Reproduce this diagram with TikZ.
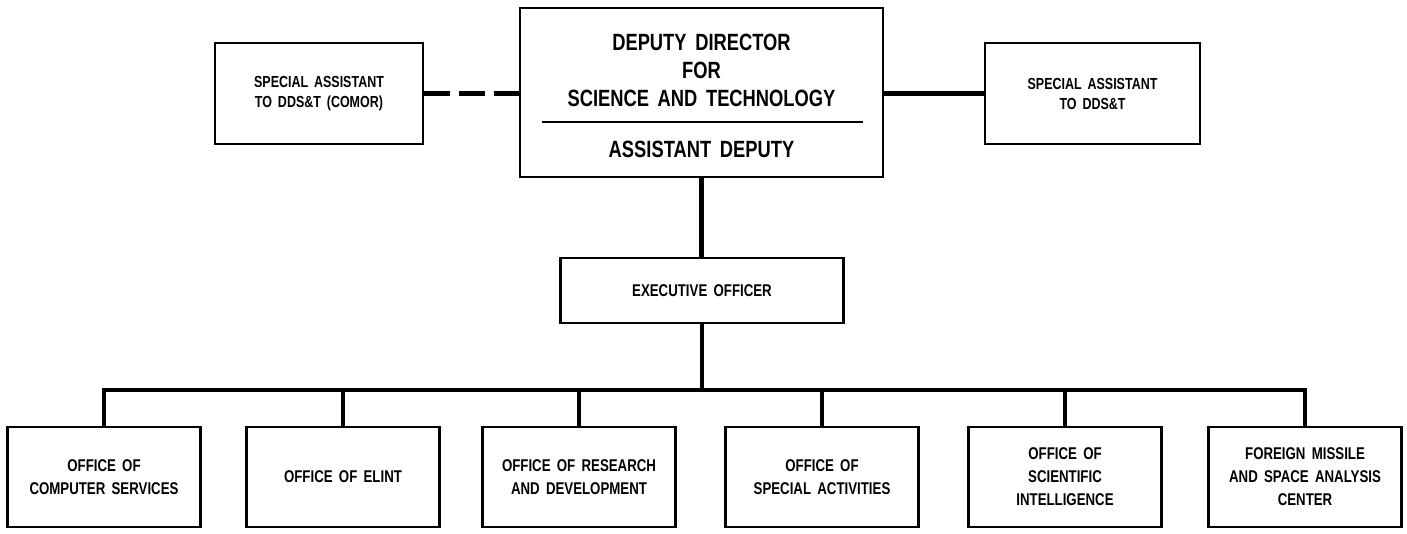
\documentclass[tikz,border=0pt]{standalone}
\usepackage{fontspec}
\setmainfont{Liberation Sans}[FakeStretch=0.78, WordSpace=1.7]
\begin{document}
\begin{tikzpicture}[x=1pt,y=-1pt]
\tikzset{
  orgbox/.style={draw, line width=2.2pt, inner sep=0pt, align=center, font=\fontsize{17}{23}\selectfont\bfseries},
  sidebox/.style={orgbox, font=\fontsize{16}{20}\selectfont\bfseries, minimum height=101pt},
  lowbox/.style={orgbox, minimum width=193pt, minimum height=100pt},
  bigtext/.style={inner sep=0pt, align=center, font=\fontsize{23.5}{28}\selectfont\bfseries},
  conn/.style={line width=4.2pt},
  dashconn/.style={line width=4.2pt, dash pattern=on 26pt off 9pt}
}
\useasboundingbox (0,0) rectangle (1407,533);
% top row
\node[orgbox, minimum width=363pt, minimum height=169pt] (dd) at (701.5,92.5) {};
\node[bigtext] (ddt) at (701.5,70) {DEPUTY DIRECTOR\\FOR\\SCIENCE AND TECHNOLOGY};
\node[bigtext] (adt) at (701.5,149.5) {ASSISTANT DEPUTY};
\draw[line width=2.2pt] ([xshift=23pt,yshift=-29.5pt]dd.west) -- ([xshift=-21pt,yshift=-29.5pt]dd.east);
\node[sidebox, minimum width=208pt] (la) at (319,93.5) {SPECIAL ASSISTANT\\TO DDS\&T (COMOR)};
\node[sidebox, minimum width=215pt] (ra) at (1092.5,93.5) {SPECIAL ASSISTANT\\TO DDS\&T};
\draw[dashconn] (la.east) -- (la.east -| dd.west);
\draw[conn] (ra.west) -- (ra.west -| dd.east);
% executive officer
\node[orgbox, minimum width=283pt, minimum height=65pt] (ex) at (702,290.5) {EXECUTIVE OFFICER};
\draw[conn] (dd.south) -- (dd.south |- ex.north);
\coordinate (bus) at (702,390);
\draw[conn] (ex.south -| bus) -- (bus);
% bottom row
\node[lowbox] (b1) at (104,477) {OFFICE OF\\COMPUTER SERVICES};
\node[lowbox] (b2) at (343,477) {OFFICE OF ELINT};
\node[lowbox] (b3) at (579,477) {OFFICE OF RESEARCH\\AND DEVELOPMENT};
\node[lowbox] (b4) at (822,477) {OFFICE OF\\SPECIAL ACTIVITIES};
\node[lowbox] (b5) at (1065,477) {OFFICE OF\\SCIENTIFIC\\INTELLIGENCE};
\node[lowbox] (b6) at (1305,477) {FOREIGN MISSILE\\AND SPACE ANALYSIS\\CENTER};
\draw[conn, line join=miter] (b1.north) -- (b1.north |- bus) -- (b6.north |- bus) -- (b6.north);
\foreach \b in {b2,b3,b4,b5}{\draw[conn] (\b.north) -- (\b.north |- bus);}
\end{tikzpicture}
\end{document}
